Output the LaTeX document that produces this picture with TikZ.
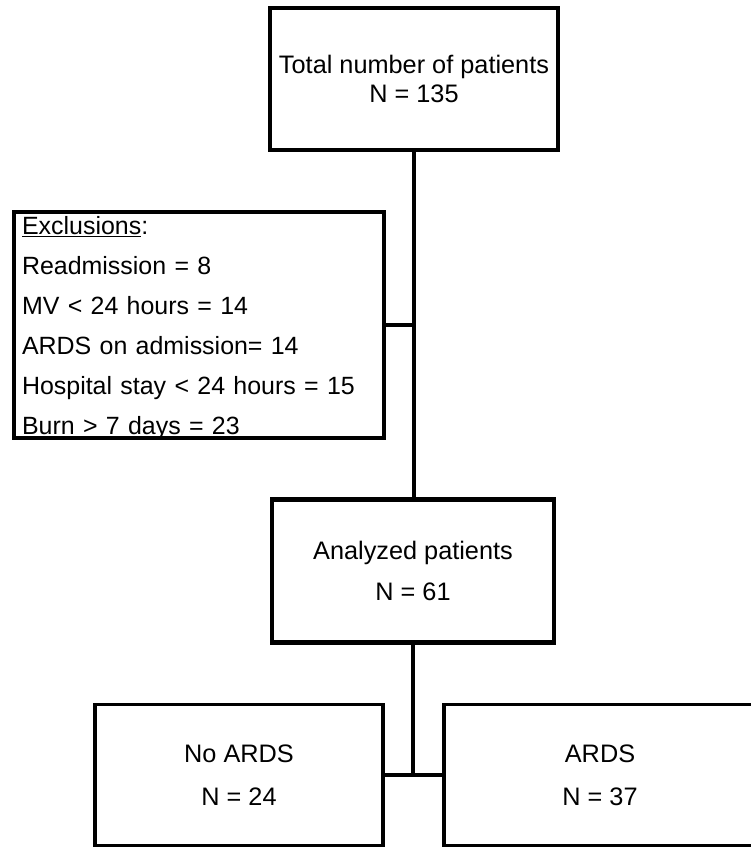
\documentclass[tikz,border=0pt]{standalone}
\usepackage{fontspec}
\setmainfont{Liberation Sans}
\usetikzlibrary{calc}

\begin{document}
\begin{tikzpicture}
[   x=0.02cm,y=-0.02cm,
    box/.style={draw,line width=2.3pt,align=center,inner sep=0pt},
    link/.style={line width=2.3pt},
    thinlink/.style={line width=1.8pt}
]
    \useasboundingbox (0,0) rectangle (750,847);
    \node[box,minimum width=5.76cm,minimum height=2.84cm,font=\fontsize{14.4pt}{16.5pt}\selectfont] (T) at (414,79)
        {Total number of patients\\N = 135};
    \node[box,align=left,text width=7.08cm,inner xsep=0.16cm,text height=0.2cm,text depth=3.84cm,minimum height=4.52cm,font=\fontsize{14.2pt}{22.8pt}\selectfont] (E) at (199,325)
        {\underline{Exclusions}:\\Readmission = 8\\MV < 24 hours = 14\\ARDS on admission= 14\\Hospital stay < 24 hours = 15\\Burn > 7 days = 23};
    \node[box,minimum width=5.64cm,minimum height=2.86cm,font=\fontsize{14.4pt}{23.4pt}\selectfont] (A) at (413,571)
        {Analyzed patients\\N = 61};
    \node[box,line width=2pt,minimum width=5.76cm,minimum height=2.82cm,font=\fontsize{14.4pt}{24.5pt}\selectfont] (N) at (239,775)
        {No ARDS\\N = 24};
    \node[box,line width=2pt,minimum width=6.24cm,minimum height=2.82cm,font=\fontsize{14.4pt}{24.5pt}\selectfont] (R) at (600,775)
        {ARDS\\N = 37};
    \draw[link] (T.south) -- (T.south |- A.north);
    \draw[link] (E.east) -- (E.east -| T.south);
    \draw[thinlink] (A.south) -- (A.south |- N.east);
    \draw[thinlink] (N.east) -- (R.west);
\end{tikzpicture}
\end{document}
